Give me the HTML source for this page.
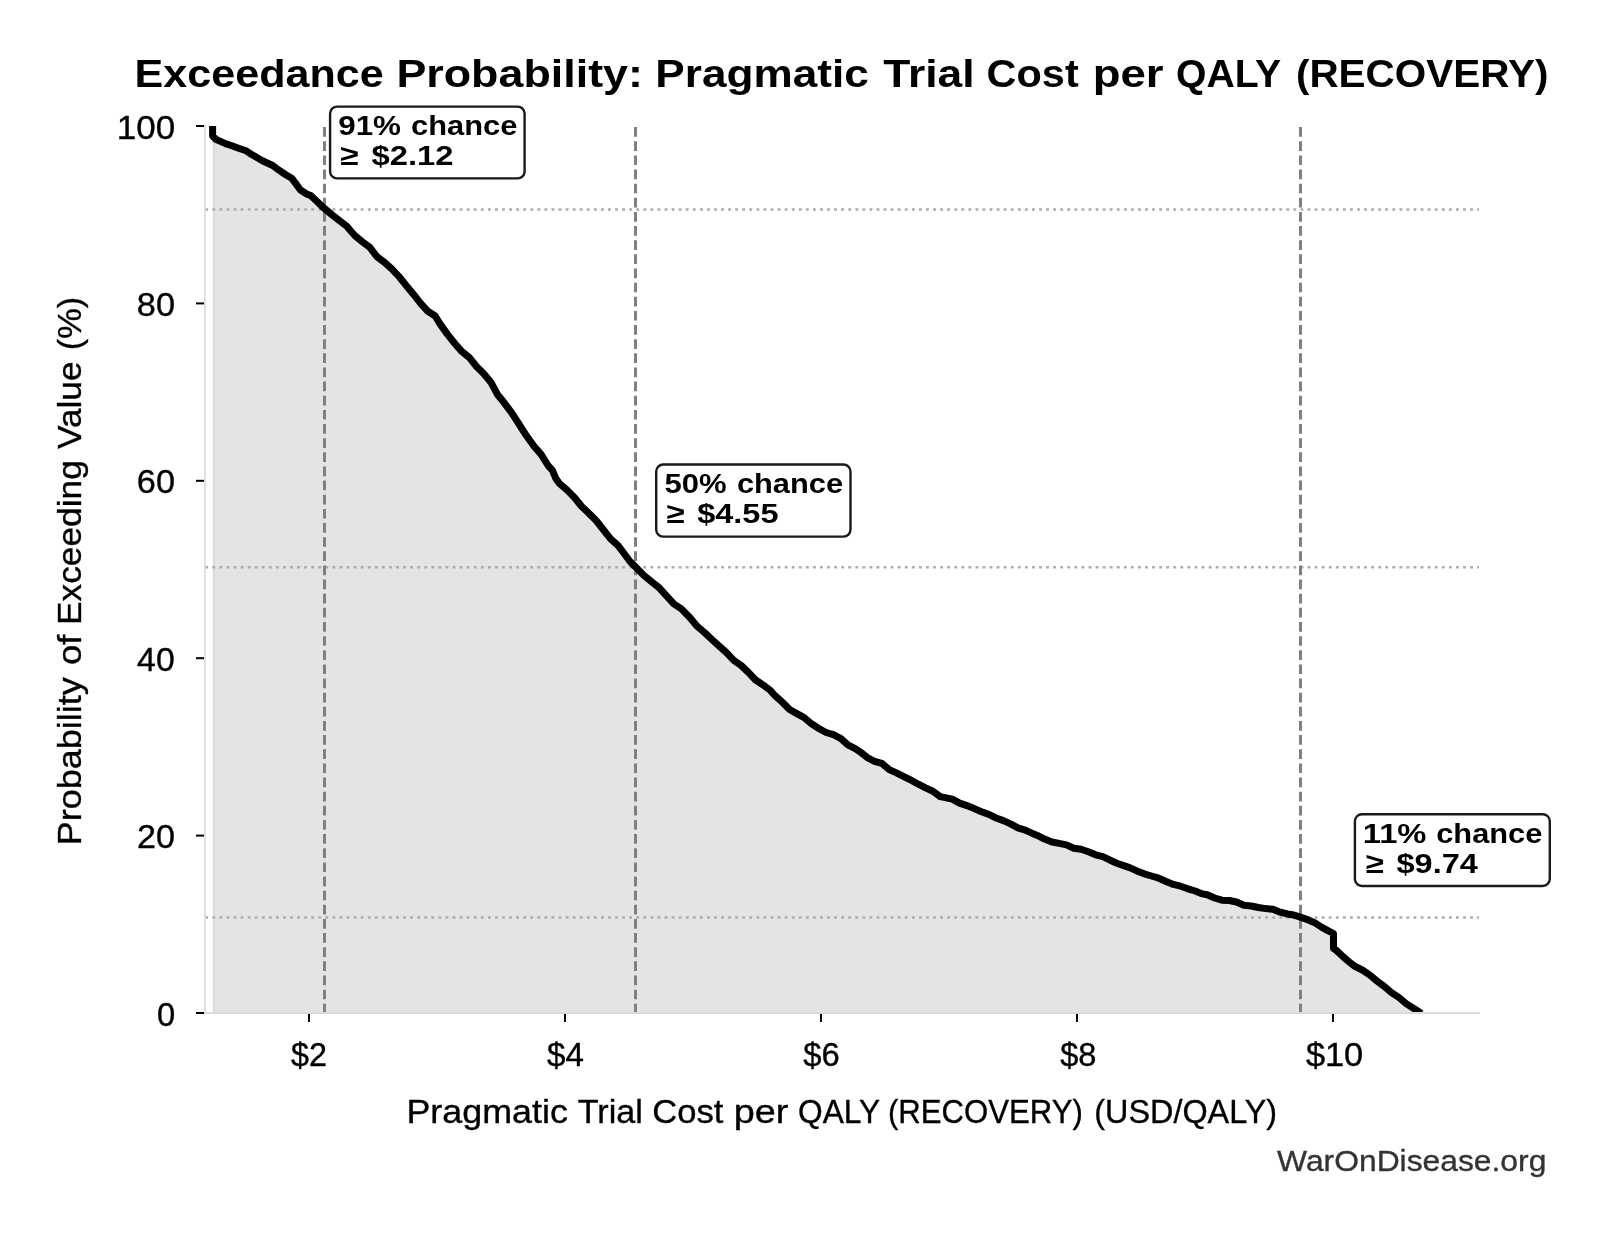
<!DOCTYPE html>
<html><head><meta charset="utf-8"><title>Exceedance Probability</title>
<style>
html,body{margin:0;padding:0;background:#fff;width:1607px;height:1234px;overflow:hidden;}
svg{display:block;}
.wrap{will-change:transform;width:1607px;height:1234px;}
text{font-family:"Liberation Sans",sans-serif;}
</style></head><body>
<div class="wrap">
<svg width="1607" height="1234" viewBox="0 0 1607 1234">
<defs><clipPath id="ax"><rect x="205" y="126" width="1275" height="887"/></clipPath></defs>
<rect width="1607" height="1234" fill="#ffffff"/>
<path d="M213.6,1014.0 L213.6,126.0 L212.6,136.0 L215.8,139.2 L219.9,141.1 L225.5,143.7 L231.1,145.5 L238.6,148.3 L246.1,150.8 L251.7,154.5 L257.3,157.7 L262.9,161.0 L272.7,165.5 L279.0,170.2 L285.4,174.5 L291.7,178.2 L294.9,182.4 L300.2,189.8 L306.6,194.0 L310.8,195.6 L317.1,201.5 L322.4,206.7 L331.9,214.7 L339.3,220.5 L346.8,226.3 L349.9,230.0 L355.0,235.8 L362.3,241.7 L369.6,247.1 L376.9,256.6 L384.2,262.1 L391.5,268.7 L398.8,276.3 L406.1,285.4 L413.4,294.2 L420.6,303.3 L427.9,311.3 L435.2,316.0 L440.0,323.9 L447.3,334.1 L454.6,343.2 L461.9,351.6 L469.2,357.4 L476.5,366.5 L483.8,373.8 L491.1,382.6 L497.3,394.2 L504.6,403.3 L511.9,413.2 L519.2,424.5 L526.5,435.8 L533.8,446.0 L541.1,454.4 L548.4,466.0 L552.3,470.2 L555.9,478.6 L559.6,483.7 L566.9,489.9 L574.2,497.2 L581.5,506.3 L588.8,513.2 L596.1,520.5 L603.4,529.7 L610.6,538.8 L617.9,545.3 L623.0,552.0 L630.0,561.5 L637.3,568.8 L644.6,576.1 L651.9,581.9 L659.2,587.8 L666.5,595.8 L673.8,603.8 L681.1,608.6 L690.0,617.7 L697.3,626.4 L704.6,632.6 L711.9,639.5 L719.2,646.1 L726.5,652.7 L733.8,660.3 L741.1,665.4 L748.4,672.4 L755.6,680.0 L762.9,684.8 L770.2,690.2 L775.0,695.7 L782.3,702.2 L789.6,709.5 L796.9,713.6 L804.2,717.6 L811.5,723.8 L818.8,728.5 L826.1,732.5 L833.4,734.7 L840.6,738.4 L847.9,744.9 L855.2,748.6 L860.0,751.8 L867.3,757.6 L874.6,761.3 L881.9,763.4 L889.2,769.6 L896.5,772.9 L903.8,776.6 L911.1,780.2 L918.4,784.2 L925.6,787.9 L932.9,791.2 L940.2,796.6 L947.5,798.1 L952.3,799.1 L959.6,803.1 L966.9,805.6 L974.2,808.6 L981.5,811.8 L988.8,814.4 L996.1,818.0 L1003.4,820.6 L1010.6,823.9 L1017.9,827.9 L1025.2,830.1 L1032.5,833.4 L1037.3,835.4 L1044.6,839.1 L1051.9,842.0 L1059.2,843.4 L1066.5,844.9 L1073.8,848.2 L1081.1,849.3 L1088.4,851.8 L1095.6,854.8 L1102.9,856.6 L1110.2,860.2 L1117.5,863.5 L1122.3,865.1 L1129.6,867.6 L1136.9,870.9 L1144.2,873.8 L1151.5,876.0 L1158.8,878.2 L1166.1,881.5 L1173.4,884.4 L1180.6,886.2 L1187.9,888.8 L1195.2,891.0 L1202.5,893.9 L1207.3,894.7 L1214.6,898.0 L1221.9,900.2 L1229.2,900.5 L1236.5,902.0 L1243.8,905.3 L1251.1,906.0 L1258.4,907.5 L1265.6,908.6 L1272.9,909.3 L1280.2,912.2 L1287.5,914.0 L1292.3,914.7 L1299.6,916.9 L1306.9,919.4 L1314.2,922.4 L1321.5,927.1 L1328.8,931.1 L1333.5,933.5 L1333.5,948.5 L1336.1,950.1 L1343.4,957.0 L1350.6,963.2 L1355.0,966.4 L1362.3,970.0 L1369.6,974.8 L1376.9,981.0 L1384.2,986.4 L1391.5,992.6 L1398.8,997.4 L1406.1,1003.6 L1413.4,1008.3 L1421.5,1013.5 L1421.5,1014.0 Z" fill="#e4e4e4" clip-path="url(#ax)"/>
<line x1="213.8" y1="126" x2="213.8" y2="1013" stroke="#cfcfcf" stroke-width="1.2"/>
<line x1="205.3" y1="209.5" x2="1479" y2="209.5" stroke="#ababab" stroke-width="2.4" stroke-dasharray="2.8 4.266"/>
<line x1="205.3" y1="567.2" x2="1479" y2="567.2" stroke="#ababab" stroke-width="2.4" stroke-dasharray="2.8 4.266"/>
<line x1="205.3" y1="917.5" x2="1479" y2="917.5" stroke="#ababab" stroke-width="2.4" stroke-dasharray="2.8 4.266"/>
<line x1="324.5" y1="127.1" x2="324.5" y2="1013" stroke="#808080" stroke-width="3" stroke-dasharray="9.7 4.44"/>
<line x1="635.5" y1="127.1" x2="635.5" y2="1013" stroke="#808080" stroke-width="3" stroke-dasharray="9.7 4.44"/>
<line x1="1300.5" y1="127.1" x2="1300.5" y2="1013" stroke="#808080" stroke-width="3" stroke-dasharray="9.7 4.44"/>
<path d="M212.6,110.0 L212.6,136.0 L215.8,139.2 L219.9,141.1 L225.5,143.7 L231.1,145.5 L238.6,148.3 L246.1,150.8 L251.7,154.5 L257.3,157.7 L262.9,161.0 L272.7,165.5 L279.0,170.2 L285.4,174.5 L291.7,178.2 L294.9,182.4 L300.2,189.8 L306.6,194.0 L310.8,195.6 L317.1,201.5 L322.4,206.7 L331.9,214.7 L339.3,220.5 L346.8,226.3 L349.9,230.0 L355.0,235.8 L362.3,241.7 L369.6,247.1 L376.9,256.6 L384.2,262.1 L391.5,268.7 L398.8,276.3 L406.1,285.4 L413.4,294.2 L420.6,303.3 L427.9,311.3 L435.2,316.0 L440.0,323.9 L447.3,334.1 L454.6,343.2 L461.9,351.6 L469.2,357.4 L476.5,366.5 L483.8,373.8 L491.1,382.6 L497.3,394.2 L504.6,403.3 L511.9,413.2 L519.2,424.5 L526.5,435.8 L533.8,446.0 L541.1,454.4 L548.4,466.0 L552.3,470.2 L555.9,478.6 L559.6,483.7 L566.9,489.9 L574.2,497.2 L581.5,506.3 L588.8,513.2 L596.1,520.5 L603.4,529.7 L610.6,538.8 L617.9,545.3 L623.0,552.0 L630.0,561.5 L637.3,568.8 L644.6,576.1 L651.9,581.9 L659.2,587.8 L666.5,595.8 L673.8,603.8 L681.1,608.6 L690.0,617.7 L697.3,626.4 L704.6,632.6 L711.9,639.5 L719.2,646.1 L726.5,652.7 L733.8,660.3 L741.1,665.4 L748.4,672.4 L755.6,680.0 L762.9,684.8 L770.2,690.2 L775.0,695.7 L782.3,702.2 L789.6,709.5 L796.9,713.6 L804.2,717.6 L811.5,723.8 L818.8,728.5 L826.1,732.5 L833.4,734.7 L840.6,738.4 L847.9,744.9 L855.2,748.6 L860.0,751.8 L867.3,757.6 L874.6,761.3 L881.9,763.4 L889.2,769.6 L896.5,772.9 L903.8,776.6 L911.1,780.2 L918.4,784.2 L925.6,787.9 L932.9,791.2 L940.2,796.6 L947.5,798.1 L952.3,799.1 L959.6,803.1 L966.9,805.6 L974.2,808.6 L981.5,811.8 L988.8,814.4 L996.1,818.0 L1003.4,820.6 L1010.6,823.9 L1017.9,827.9 L1025.2,830.1 L1032.5,833.4 L1037.3,835.4 L1044.6,839.1 L1051.9,842.0 L1059.2,843.4 L1066.5,844.9 L1073.8,848.2 L1081.1,849.3 L1088.4,851.8 L1095.6,854.8 L1102.9,856.6 L1110.2,860.2 L1117.5,863.5 L1122.3,865.1 L1129.6,867.6 L1136.9,870.9 L1144.2,873.8 L1151.5,876.0 L1158.8,878.2 L1166.1,881.5 L1173.4,884.4 L1180.6,886.2 L1187.9,888.8 L1195.2,891.0 L1202.5,893.9 L1207.3,894.7 L1214.6,898.0 L1221.9,900.2 L1229.2,900.5 L1236.5,902.0 L1243.8,905.3 L1251.1,906.0 L1258.4,907.5 L1265.6,908.6 L1272.9,909.3 L1280.2,912.2 L1287.5,914.0 L1292.3,914.7 L1299.6,916.9 L1306.9,919.4 L1314.2,922.4 L1321.5,927.1 L1328.8,931.1 L1333.5,933.5 L1333.5,948.5 L1336.1,950.1 L1343.4,957.0 L1350.6,963.2 L1355.0,966.4 L1362.3,970.0 L1369.6,974.8 L1376.9,981.0 L1384.2,986.4 L1391.5,992.6 L1398.8,997.4 L1406.1,1003.6 L1413.4,1008.3 L1421.5,1013.5" fill="none" stroke="#000" stroke-width="7.0" stroke-linejoin="round" clip-path="url(#ax)"/>
<line x1="205" y1="125" x2="205" y2="1014" stroke="#dcdcdc" stroke-width="1.8"/>
<line x1="204" y1="1013" x2="1480" y2="1013" stroke="#dcdcdc" stroke-width="1.9"/>
<line x1="196" y1="1013.00" x2="204" y2="1013.00" stroke="#000" stroke-width="2"/>
<line x1="196" y1="835.60" x2="204" y2="835.60" stroke="#000" stroke-width="2"/>
<line x1="196" y1="658.20" x2="204" y2="658.20" stroke="#000" stroke-width="2"/>
<line x1="196" y1="480.80" x2="204" y2="480.80" stroke="#000" stroke-width="2"/>
<line x1="196" y1="303.40" x2="204" y2="303.40" stroke="#000" stroke-width="2"/>
<line x1="196" y1="126.00" x2="204" y2="126.00" stroke="#000" stroke-width="2"/>
<line x1="309.00" y1="1014" x2="309.00" y2="1022" stroke="#000" stroke-width="2"/>
<line x1="565.00" y1="1014" x2="565.00" y2="1022" stroke="#000" stroke-width="2"/>
<line x1="821.00" y1="1014" x2="821.00" y2="1022" stroke="#000" stroke-width="2"/>
<line x1="1077.00" y1="1014" x2="1077.00" y2="1022" stroke="#000" stroke-width="2"/>
<line x1="1333.00" y1="1014" x2="1333.00" y2="1022" stroke="#000" stroke-width="2"/>
<text x="134.5" y="87" font-size="39.2" font-weight="bold" fill="#000" textLength="249.24" lengthAdjust="spacingAndGlyphs">Exceedance</text>
<text x="396.41" y="87" font-size="39.2" font-weight="bold" fill="#000" textLength="246.56" lengthAdjust="spacingAndGlyphs">Probability:</text>
<text x="655.25" y="87" font-size="39.2" font-weight="bold" fill="#000" textLength="213.65" lengthAdjust="spacingAndGlyphs">Pragmatic</text>
<text x="883.3" y="87" font-size="39.2" font-weight="bold" fill="#000" textLength="91.25" lengthAdjust="spacingAndGlyphs">Trial</text>
<text x="986.64" y="87" font-size="39.2" font-weight="bold" fill="#000" textLength="92.06" lengthAdjust="spacingAndGlyphs">Cost</text>
<text x="1092.67" y="87" font-size="39.2" font-weight="bold" fill="#000" textLength="70.91" lengthAdjust="spacingAndGlyphs">per</text>
<text x="1176.0" y="87" font-size="39.2" font-weight="bold" fill="#000" textLength="105.27" lengthAdjust="spacingAndGlyphs">QALY</text>
<text x="1295.94" y="87" font-size="39.2" font-weight="bold" fill="#000" textLength="252.49" lengthAdjust="spacingAndGlyphs">(RECOVERY)</text>
<text x="406.46" y="1123" font-size="33.6" fill="#000" stroke="#000" stroke-width="0.35" textLength="161.37" lengthAdjust="spacingAndGlyphs">Pragmatic</text>
<text x="577.8" y="1123" font-size="33.6" fill="#000" stroke="#000" stroke-width="0.35" textLength="65.08" lengthAdjust="spacingAndGlyphs">Trial</text>
<text x="652.37" y="1123" font-size="33.6" fill="#000" stroke="#000" stroke-width="0.35" textLength="71.08" lengthAdjust="spacingAndGlyphs">Cost</text>
<text x="733.75" y="1123" font-size="33.6" fill="#000" stroke="#000" stroke-width="0.35" textLength="54.65" lengthAdjust="spacingAndGlyphs">per</text>
<text x="798.06" y="1123" font-size="33.6" fill="#000" stroke="#000" stroke-width="0.35" textLength="82.18" lengthAdjust="spacingAndGlyphs">QALY</text>
<text x="887.95" y="1123" font-size="33.6" fill="#000" stroke="#000" stroke-width="0.35" textLength="194.91" lengthAdjust="spacingAndGlyphs">(RECOVERY)</text>
<text x="1094.27" y="1123" font-size="33.6" fill="#000" stroke="#000" stroke-width="0.35" textLength="182.85" lengthAdjust="spacingAndGlyphs">(USD/QALY)</text>
<g transform="translate(81.2,0) rotate(-90)"><text x="-845.17" y="0" font-size="34" fill="#000" stroke="#000" stroke-width="0.35" textLength="167.91" lengthAdjust="spacingAndGlyphs">Probability</text><text x="-665.07" y="0" font-size="34" fill="#000" stroke="#000" stroke-width="0.35" textLength="30.39" lengthAdjust="spacingAndGlyphs">of</text><text x="-625.01" y="0" font-size="34" fill="#000" stroke="#000" stroke-width="0.35" textLength="164.76" lengthAdjust="spacingAndGlyphs">Exceeding</text><text x="-449.0" y="0" font-size="34" fill="#000" stroke="#000" stroke-width="0.35" textLength="87.59" lengthAdjust="spacingAndGlyphs">Value</text><text x="-350.32" y="0" font-size="34" fill="#000" stroke="#000" stroke-width="0.35" textLength="53.43" lengthAdjust="spacingAndGlyphs">(%)</text></g>
<text x="1277.1" y="1170.8" font-size="29.8" fill="#333333" stroke="#333333" stroke-width="0.35" textLength="269.25" lengthAdjust="spacingAndGlyphs">WarOnDisease.org</text>
<text x="116.83" y="139.0" font-size="32.3" fill="#000" stroke="#000" stroke-width="0.35" textLength="58.43" lengthAdjust="spacingAndGlyphs">100</text>
<text x="136.84" y="315.6" font-size="32.3" fill="#000" stroke="#000" stroke-width="0.35" textLength="38.16" lengthAdjust="spacingAndGlyphs">80</text>
<text x="136.84" y="492.8" font-size="32.3" fill="#000" stroke="#000" stroke-width="0.35" textLength="38.16" lengthAdjust="spacingAndGlyphs">60</text>
<text x="137.1" y="670.6" font-size="32.3" fill="#000" stroke="#000" stroke-width="0.35" textLength="37.58" lengthAdjust="spacingAndGlyphs">40</text>
<text x="137.04" y="847.8" font-size="32.3" fill="#000" stroke="#000" stroke-width="0.35" textLength="37.95" lengthAdjust="spacingAndGlyphs">20</text>
<text x="156.99" y="1025.6" font-size="32.3" fill="#000" stroke="#000" stroke-width="0.35" textLength="18.19" lengthAdjust="spacingAndGlyphs">0</text>
<text x="291.0" y="1065.5" font-size="32.3" fill="#000" stroke="#000" stroke-width="0.35" textLength="35.94" lengthAdjust="spacingAndGlyphs">$2</text>
<text x="547.0" y="1065.5" font-size="32.3" fill="#000" stroke="#000" stroke-width="0.35" textLength="36.86" lengthAdjust="spacingAndGlyphs">$4</text>
<text x="803.3" y="1065.5" font-size="32.3" fill="#000" stroke="#000" stroke-width="0.35" textLength="36.45" lengthAdjust="spacingAndGlyphs">$6</text>
<text x="1060.2" y="1065.5" font-size="32.3" fill="#000" stroke="#000" stroke-width="0.35" textLength="36.25" lengthAdjust="spacingAndGlyphs">$8</text>
<text x="1305.9" y="1065.5" font-size="32.3" fill="#000" stroke="#000" stroke-width="0.35" textLength="57.35" lengthAdjust="spacingAndGlyphs">$10</text>
<rect x="330.09999999999997" y="106.60000000000001" width="194.49999999999997" height="71.79999999999998" rx="7" ry="7" fill="#fff" stroke="#1a1a1a" stroke-width="2.4"/>
<rect x="656.2" y="464.5" width="194.30000000000004" height="72.09999999999994" rx="7" ry="7" fill="#fff" stroke="#1a1a1a" stroke-width="2.4"/>
<rect x="1354.9" y="814.2" width="194.89999999999995" height="71.80000000000004" rx="7" ry="7" fill="#fff" stroke="#1a1a1a" stroke-width="2.4"/>
<text x="338.2" y="135" font-size="28.5" font-weight="bold" fill="#000" textLength="62.85" lengthAdjust="spacingAndGlyphs">91%</text>
<text x="411.02" y="135" font-size="28.5" font-weight="bold" fill="#000" textLength="106.32" lengthAdjust="spacingAndGlyphs">chance</text>
<text x="340.3" y="164.7" font-size="28.5" font-weight="bold" fill="#000" textLength="18.37" lengthAdjust="spacingAndGlyphs">≥</text>
<text x="371.6" y="164.7" font-size="28.5" font-weight="bold" fill="#000" textLength="81.93" lengthAdjust="spacingAndGlyphs">$2.12</text>
<text x="664.61" y="492.8" font-size="28.5" font-weight="bold" fill="#000" textLength="62.04" lengthAdjust="spacingAndGlyphs">50%</text>
<text x="736.92" y="492.8" font-size="28.5" font-weight="bold" fill="#000" textLength="106.11" lengthAdjust="spacingAndGlyphs">chance</text>
<text x="666.4" y="522.9" font-size="28.5" font-weight="bold" fill="#000" textLength="18.16" lengthAdjust="spacingAndGlyphs">≥</text>
<text x="697.2" y="522.9" font-size="28.5" font-weight="bold" fill="#000" textLength="81.27" lengthAdjust="spacingAndGlyphs">$4.55</text>
<text x="1362.81" y="842.8" font-size="28.5" font-weight="bold" fill="#000" textLength="63.65" lengthAdjust="spacingAndGlyphs">11%</text>
<text x="1436.22" y="842.8" font-size="28.5" font-weight="bold" fill="#000" textLength="106.11" lengthAdjust="spacingAndGlyphs">chance</text>
<text x="1365.7" y="872.9" font-size="28.5" font-weight="bold" fill="#000" textLength="18.16" lengthAdjust="spacingAndGlyphs">≥</text>
<text x="1396.5" y="872.9" font-size="28.5" font-weight="bold" fill="#000" textLength="81.37" lengthAdjust="spacingAndGlyphs">$9.74</text>
</svg>
</div>
</body></html>
